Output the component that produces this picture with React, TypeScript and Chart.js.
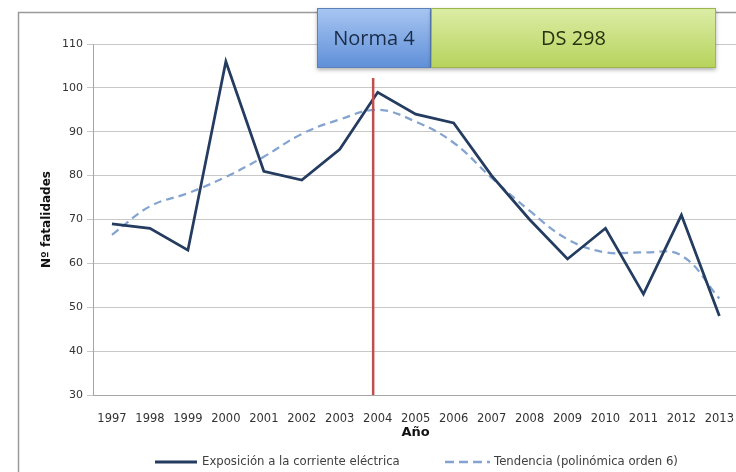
import React, { useEffect, useRef } from "react";
import { Chart, registerables } from "chart.js";

Chart.register(...registerables);

const years = ["1997", "1998", "1999", "2000", "2001", "2002", "2003", "2004", "2005", "2006", "2007", "2008", "2009", "2010", "2011", "2012", "2013"];
const exposicion = [69, 68, 63, 106, 81, 79, 86, 99, 94, 92, 80, 70, 61, 68, 53, 71, 48];
const tendencia = [66.5, 73, 76, 79.7, 84.3, 89.5, 92.8, 95, 92.3, 87.5, 79.5, 72, 65.5, 62.5, 62.5, 61.8, 52];
const seriesNames = ["Exposición a la corriente eléctrica", "Tendencia (polinómica orden 6)"];
const yTitle = "Nº fatalidades";
const xTitle = "Año";
const yMin = 30;
const yMax = 110;
const yStep = 10;
const periodLabels = ["Norma 4", "DS 298"];
const normChangeIndex = 6.88; // position of the regulation change between categories

const NAVY = "#243c60";
const TREND = "#84a4d0";

const decorPlugin = {
  id: "decor",
  beforeDraw(chart: any) {
    const { ctx, width, height } = chart;
    ctx.save();
    ctx.fillStyle = "#ffffff";
    ctx.fillRect(0, 0, width, height);
    ctx.strokeStyle = "#9a9a9a";
    ctx.lineWidth = 1.5;
    ctx.strokeRect(18.5, 12.5, width + 20, height + 20);
    ctx.restore();
  },
  afterDatasetsDraw(chart: any) {
    const { ctx, chartArea } = chart;
    const x = chart.scales.x.getPixelForValue(normChangeIndex);
    ctx.save();
    ctx.strokeStyle = "#c0504d";
    ctx.lineWidth = 2.5;
    ctx.beginPath();
    ctx.moveTo(x, 78);
    ctx.lineTo(x, chartArea.bottom);
    ctx.stroke();
    ctx.restore();
  },
  afterDraw(chart: any) {
    const { ctx } = chart;
    ctx.save();
    const top = 8;
    const h = 60;
    const boxes = [
      { x0: 317, x1: 431, c0: "#a8c6f2", c1: "#5f8fd8", border: "#5c82bc", text: "#1b2c48" },
      { x0: 431, x1: 716, c0: "#dcedA6", c1: "#b7d35c", border: "#9cb84c", text: "#28320f" },
    ];
    boxes.forEach((b, i) => {
      const g = ctx.createLinearGradient(0, top, 0, top + h);
      g.addColorStop(0, b.c0);
      g.addColorStop(1, b.c1);
      ctx.save();
      ctx.shadowColor = "rgba(0,0,0,0.3)";
      ctx.shadowBlur = 4;
      ctx.shadowOffsetY = 2;
      ctx.fillStyle = g;
      ctx.fillRect(b.x0, top, b.x1 - b.x0, h);
      ctx.restore();
      ctx.strokeStyle = b.border;
      ctx.lineWidth = 1;
      ctx.strokeRect(b.x0 + 0.5, top + 0.5, b.x1 - b.x0 - 1, h - 1);
      ctx.fillStyle = b.text;
      ctx.font = "20px 'Open Sans'";
      ctx.textAlign = "center";
      ctx.textBaseline = "middle";
      ctx.fillText(periodLabels[i], (b.x0 + b.x1) / 2, top + h / 2 + 1);
    });
    const ly = 462;
    ctx.font = "11.7px 'DejaVu Sans'";
    ctx.textAlign = "left";
    ctx.textBaseline = "middle";
    ctx.strokeStyle = NAVY;
    ctx.lineWidth = 3;
    ctx.beginPath();
    ctx.moveTo(155, ly);
    ctx.lineTo(197, ly);
    ctx.stroke();
    ctx.fillStyle = "#404040";
    ctx.fillText(seriesNames[0], 202, ly);
    ctx.strokeStyle = TREND;
    ctx.lineWidth = 2.5;
    ctx.setLineDash([9, 5]);
    ctx.beginPath();
    ctx.moveTo(445, ly);
    ctx.lineTo(490, ly);
    ctx.stroke();
    ctx.setLineDash([]);
    ctx.fillText(seriesNames[1], 494, ly);
    ctx.restore();
  },
};

export default function App() {
  const ref = useRef<HTMLCanvasElement | null>(null);
  useEffect(() => {
    if (!ref.current) return;
    Chart.defaults.font.family = "'DejaVu Sans'";
    const chart = new Chart(ref.current, {
      type: "line",
      data: {
        labels: years,
        datasets: [
          {
            label: seriesNames[0],
            data: exposicion,
            borderColor: NAVY,
            borderWidth: 2.75,
            pointRadius: 0,
            tension: 0,
            fill: false,
          },
          {
            label: seriesNames[1],
            data: tendencia,
            borderColor: TREND,
            borderWidth: 2.25,
            borderDash: [8, 5],
            pointRadius: 0,
            tension: 0.4,
            fill: false,
          },
        ],
      },
      options: {
        responsive: false,
        animation: false,
        devicePixelRatio: 1,
        layout: { padding: { left: 20, top: 44, right: 0, bottom: 32 } },
        plugins: { legend: { display: false }, tooltip: { enabled: false } },
        scales: {
          x: {
            offset: true,
            grid: { display: false },
            border: { display: true, color: "#a6a6a6", width: 1 },
            ticks: { color: "#333333", font: { size: 11.5 }, padding: 9, maxRotation: 0, autoSkip: false },
            title: { display: true, text: xTitle, color: "#111111", font: { size: 13, weight: "bold" }, padding: { top: 0, bottom: 0 } },
            afterFit: (s: any) => {
              s.height = 45;
            },
          },
          y: {
            min: yMin,
            max: yMax,
            grid: { color: "#c8c8c8", lineWidth: 1, tickLength: 6, drawTicks: true },
            border: { display: true, color: "#a6a6a6", width: 1 },
            ticks: { stepSize: yStep, color: "#333333", font: { size: 11 }, padding: 4 },
            title: { display: true, text: yTitle, color: "#111111", font: { size: 12, weight: "bold" }, padding: { top: 20, bottom: 0 } },
            afterFit: (s: any) => {
              s.width = 73;
            },
          },
        },
      },
      plugins: [decorPlugin],
    });
    return () => chart.destroy();
  }, []);
  return (
    <div style={{ position: "absolute", left: 0, top: 0, width: 736, height: 472, overflow: "hidden" }}>
      <canvas ref={ref} width={743} height={472} style={{ display: "block" }} />
    </div>
  );
}
